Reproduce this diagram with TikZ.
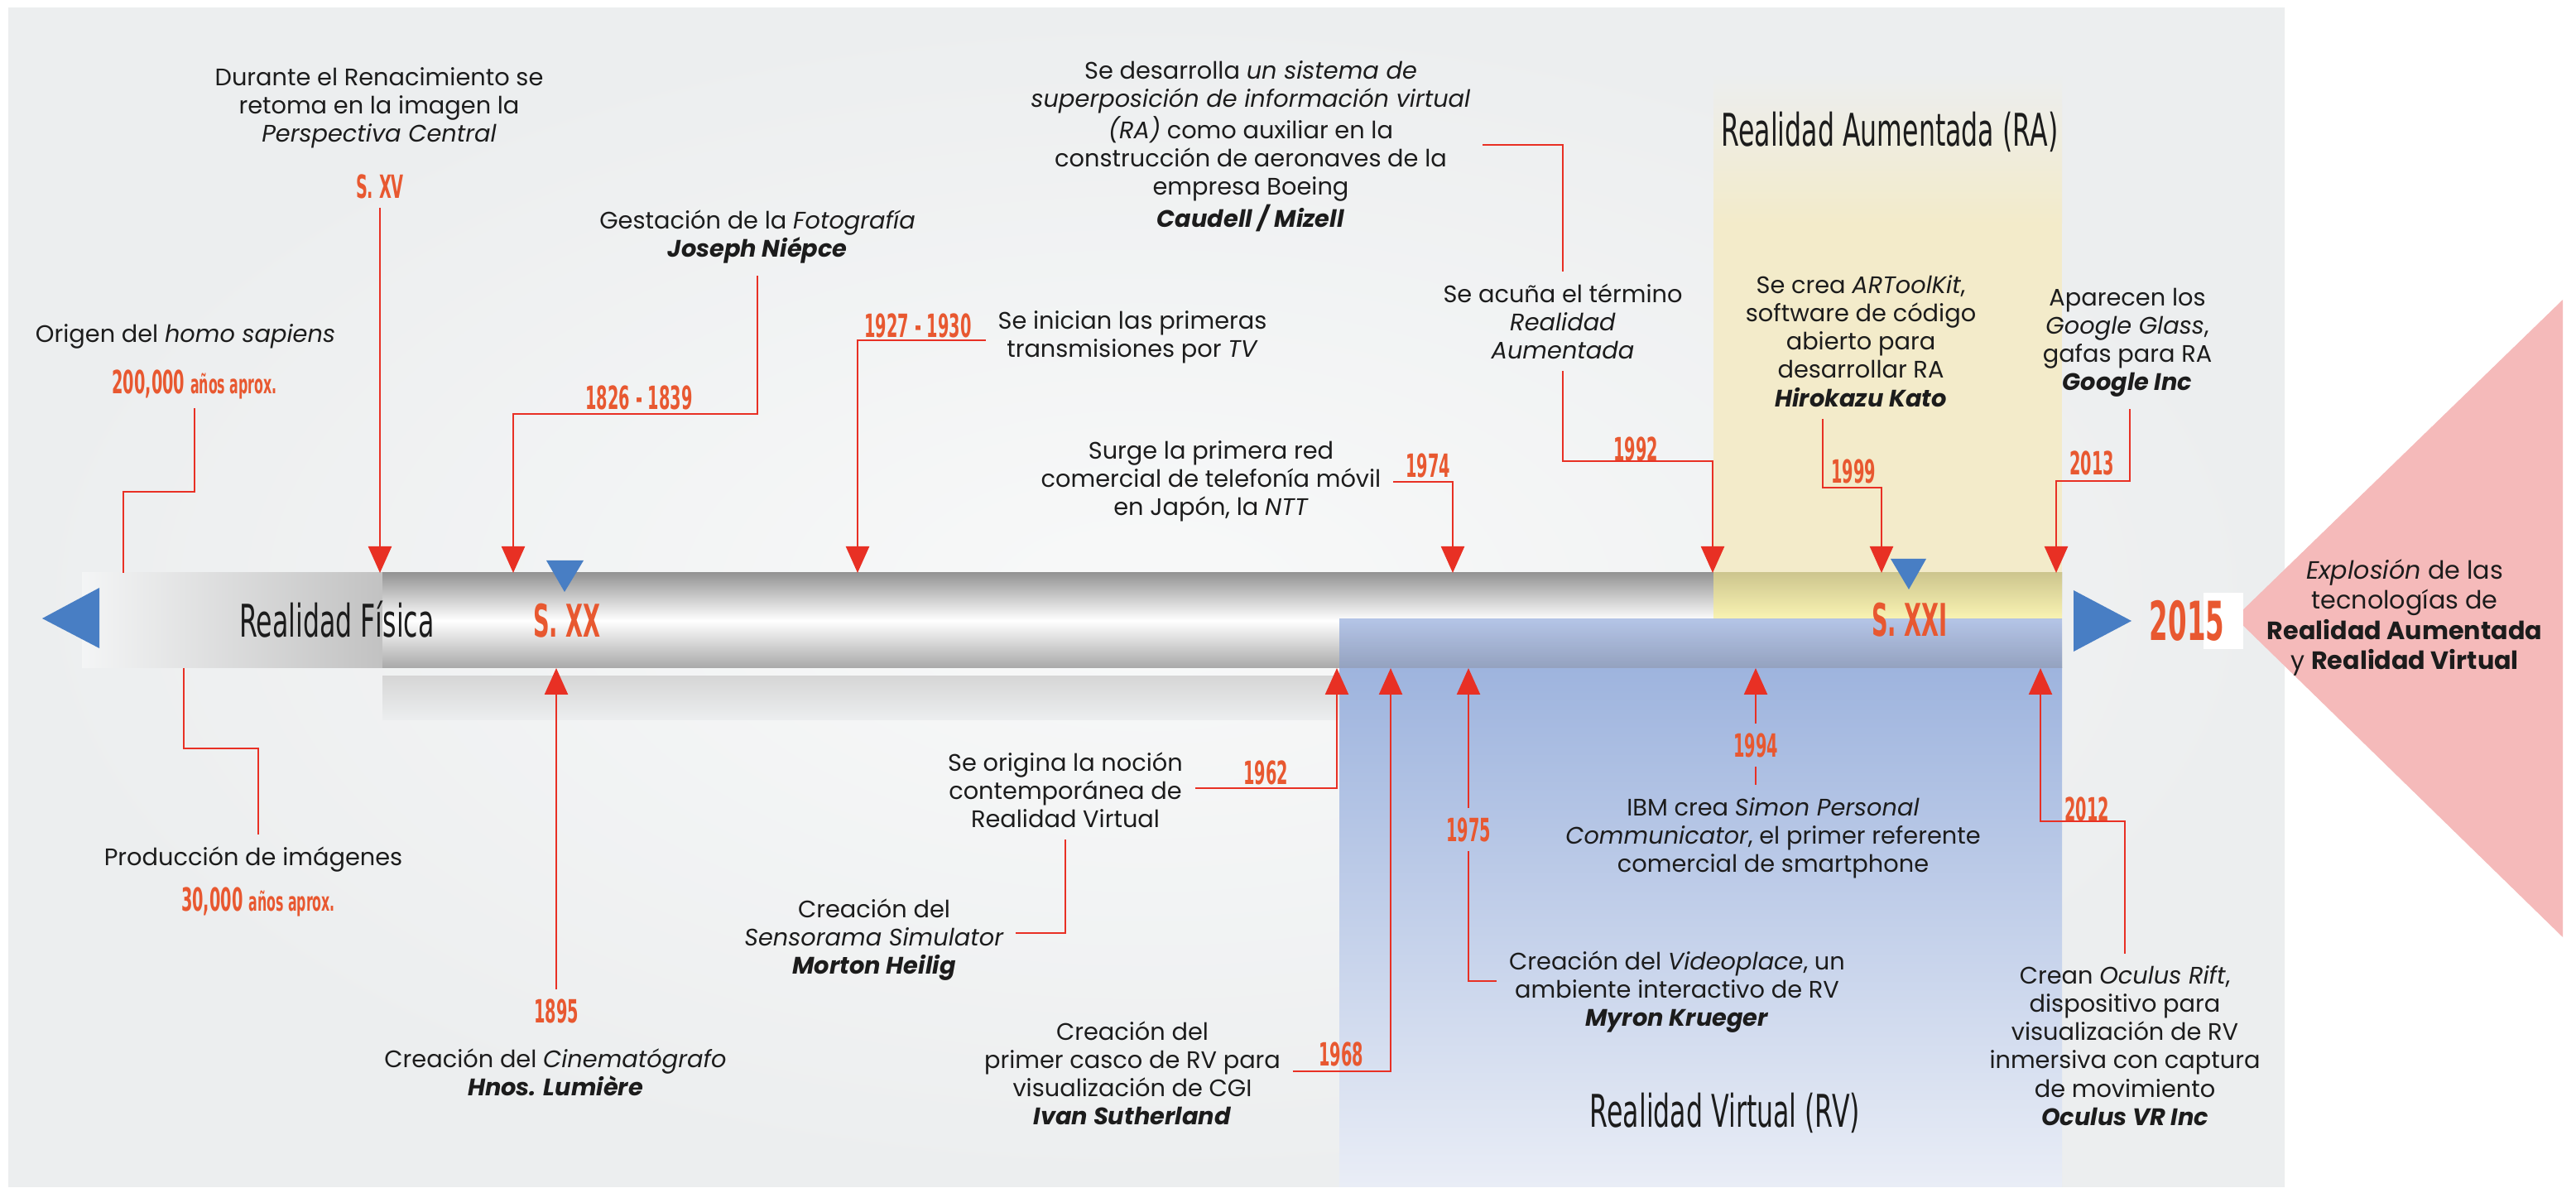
\documentclass[tikz,border=0pt]{standalone}
\usepackage{fontspec}
\setmainfont{Poppins}
\newfontfamily\condfont[FakeStretch=0.5]{DejaVu Sans}
\newfontfamily\bannerfam[FakeStretch=0.58]{DejaVu Sans}
\usepackage{xcolor}
\usepackage{tikz}
\usetikzlibrary{arrows.meta, positioning, calc}
\newcommand{\evfont}{\fontsize{8.2}{9.7}\selectfont}
\newcommand{\yrfont}{\condfont\bfseries\fontsize{11}{12}\selectfont}
\newcommand{\bigyr}{\condfont\bfseries\fontsize{15.5}{17}\selectfont}
\newcommand{\bannerfont}{\bannerfam\fontsize{15.5}{17}\selectfont}
\newcommand{\aprox}{{\fontsize{9}{10}\selectfont a\~nos aprox.}}
\newcommand{\who}[1]{\textbf{\textit{#1}}}
\definecolor{tlred}{RGB}{232,48,36}
\definecolor{tlorange}{RGB}{232,88,48}
\definecolor{tldark}{RGB}{28,28,28}
\definecolor{tlbg}{RGB}{236,238,239}
\definecolor{tlbglt}{RGB}{248,249,249}
\definecolor{tlblue}{RGB}{72,126,196}
\definecolor{tlpink}{RGB}{245,186,186}
\definecolor{rapale}{RGB}{243,235,202}
\definecolor{rabartop}{RGB}{212,204,142}
\definecolor{rabarbot}{RGB}{250,243,172}
\definecolor{rvtop}{RGB}{158,180,222}
\definecolor{rvbot}{RGB}{233,237,246}
\definecolor{rvbar}{RGB}{172,190,228}
\tikzset{
  evtext/.style={font=\evfont, text=tldark, align=center, inner sep=4pt},
  yr/.style={font=\yrfont, text=tlorange, inner sep=3pt},
  cent/.style={font=\bigyr, text=tlorange},
  banner/.style={font=\bannerfont, text=tldark},
  link/.style={tlred, line width=0.7pt},
  arr/.style={link, -{Triangle[width=2.8mm, length=3.2mm]}},
}

\begin{document}
\begin{tikzpicture}[x=1cm, y=1cm]
% background
\fill[white] (0,0) rectangle (31.12,14.40);
\shade[inner color=tlbglt, outer color=tlbg] (0.10,0.07) rectangle (27.60,14.30);

% ---- closing triangle ----
\fill[tlpink] (27.00,6.94) -- (30.96,10.78) -- (30.96,3.08) -- cycle;
\node[evtext, font=\fontsize{8.6}{10.3}\selectfont] (boom) at (29.05,6.94)
  {\textit{Explosión} de las\\tecnologías de\\\textbf{Realidad Aumentada}\\y \textbf{Realidad Virtual}};

% ---- RA / RV panels ----
\shade[top color=tlbg, bottom color=rapale] (20.70,13.51) rectangle (24.91,11.70);
\fill[rapale] (20.70,11.70) rectangle (24.91,7.48);
\shade[top color=rvtop, bottom color=rvbot] (16.18,6.33) rectangle (24.91,0.07);

% ---- time bar ----
\shade[left color=tlbg!60!white, right color=black!24] (0.99,6.33) rectangle (4.62,7.48);
\shade[top color=black!42, bottom color=black!34, middle color=white] (4.62,6.33) rectangle (24.91,7.48);
\shade[top color=black!16, bottom color=tlbg] (4.62,6.23) rectangle (16.18,5.70);
\shade[top color=rabartop, bottom color=rabarbot, opacity=0.9] (20.70,6.92) rectangle (24.91,7.48);
\shade[top color=rvbar, bottom color=rvbar!85!black, opacity=0.9] (16.18,6.33) rectangle (24.91,6.92);

% ends and century marks
\fill[tlblue] (0.51,6.93) -- (1.20,7.30) -- (1.20,6.57) -- cycle;
\fill[tlblue] (25.05,7.27) -- (25.75,6.90) -- (25.05,6.53) -- cycle;
\fill[tlblue] (6.60,7.63) -- (7.05,7.63) -- (6.82,7.25) -- cycle;
\fill[tlblue] (22.84,7.65) -- (23.27,7.65) -- (23.06,7.28) -- cycle;

% ---- labels on the bar ----
\node[banner] (fisica) at (4.07,6.92) {Realidad Física};
\node[cent] (sxx) at (6.85,6.90) {S. XX};
\node[cent] (sxxi) at (23.07,6.91) {S. XXI};
\fill[white] (26.62,7.24) rectangle (27.10,6.56);
\node[cent, font=\condfont\bfseries\fontsize{18.5}{20}\selectfont] (y2015) at (26.42,6.90) {2015};
\node[banner] (ra) at (22.83,12.81) {Realidad Aumentada (RA)};
\node[banner] (rv) at (20.84,0.96) {Realidad Virtual (RV)};

% points on the bar
\foreach \n/\x in {orig/1.49, sxv/4.59, foto/6.20, tv/10.36, ntt/17.55,
                   ra92/20.69, ra99/22.73, glass/24.84}
  \coordinate (b-\n) at (\x,7.48);
\foreach \n/\x in {img/2.22, lum/6.72, rv62/16.15, rv68/16.80, rv75/17.74,
                   rv94/21.21, rv12/24.65}
  \coordinate (b-\n) at (\x,6.33);

% ---- events above the bar ----
\node[evtext] (orig) at (2.24,10.34) {Origen del \textit{homo sapiens}};
\node[yr] (orig-yr) at (2.35,9.76) {200,000 \aprox};
\coordinate (k-orig) at (1.49,8.46);
\draw[link] (orig-yr.south) |- (k-orig) -- (b-orig);

\node[evtext] (renac) at (4.58,13.10)
  {Durante el Renacimiento se\\retoma en la imagen la\\\textit{Perspectiva Central}};
\node[yr] (sxv) at (4.59,12.15) {S. XV};
\draw[arr] (sxv.south) -- (b-sxv);

\node[evtext] (foto) at (9.15,11.54) {Gestación de la \textit{Fotografía}\\\who{Joseph Niépce}};
\node[yr] (foto-yr) at (7.72,9.60) {1826 - 1839};
\coordinate (k-foto) at (6.20,9.40);
\draw[arr] (foto.south) |- (k-foto) -- (b-foto);

\node[yr] (tv-yr) at (11.09,10.47) {1927 - 1930};
\node[evtext] (tv) at (13.68,10.33) {Se inician las primeras\\transmisiones por \textit{TV}};
\coordinate (k-tv) at (10.36,10.29);
\draw[arr] (tv.west |- k-tv) -- (k-tv) -- (b-tv);

\node[evtext] (ntt) at (14.63,8.59)
  {Surge la primera red\\comercial de telefonía móvil\\en Japón, la \textit{NTT}};
\node[yr] (ntt-yr) at (17.25,8.78) {1974};
\coordinate (k-ntt) at (17.55,8.58);
\draw[arr] (ntt.east |- k-ntt) -- (k-ntt) -- (b-ntt);

\node[evtext] (boeing) at (15.11,12.635)
  {Se desarrolla \textit{un sistema de}\\\textit{superposición de información virtual}\\
   \textit{(RA)} como auxiliar en la\\construcción de aeronaves de la\\empresa Boeing\\\who{Caudell / Mizell}};
\node[evtext] (acuna) at (18.88,10.52) {Se acuña el término\\\textit{Realidad}\\\textit{Aumentada}};
\node[yr] (acuna-yr) at (19.76,8.98) {1992};
\coordinate (k-boeing) at (18.88,12.65);
\coordinate (k-acuna) at (20.69,8.83);
\draw[link] (boeing.east |- k-boeing) -- (k-boeing) -- (acuna.north);
\draw[arr] (acuna.south) |- (k-acuna) -- (b-ra92);

\node[evtext] (artk) at (22.48,10.28)
  {Se crea \textit{ARToolKit},\\software de código\\abierto para\\desarrollar RA\\\who{Hirokazu Kato}};
\node[yr] (artk-yr) at (22.39,8.71) {1999};
\coordinate (k-artk) at (22.73,8.51);
\draw[arr] ([xshift=-4.6mm]artk.south) |- (k-artk) -- (b-ra99);

\node[evtext] (glass) at (25.70,10.265)
  {Aparecen los\\\textit{Google Glass},\\gafas para RA\\\who{Google Inc}};
\node[yr] (glass-yr) at (25.27,8.81) {2013};
\coordinate (k-glass) at (24.84,8.59);
\draw[arr] ([xshift=0.3mm]glass.south) |- (k-glass) -- (b-glass);

% ---- events below the bar ----
\node[evtext] (img) at (3.06,4.02) {Producción de imágenes};
\node[yr] (img-yr) at (3.12,3.51) {30,000 \aprox};
\coordinate (k-img) at (2.22,5.36);
\draw[link] (b-img) -- (k-img) -| ([xshift=0.6mm]img.north);

\node[yr] (lum-yr) at (6.72,2.19) {1895};
\node[evtext] (lum) at (6.71,1.45) {Creación del \textit{Cinematógrafo}\\\who{Hnos. Lumière}};
\draw[arr] (lum-yr.north) -- (b-lum);

\node[evtext] (rv62) at (12.87,4.86) {Se origina la noción\\contemporánea de\\Realidad Virtual};
\node[yr] (rv62-yr) at (15.29,5.07) {1962};
\coordinate (k-rv62) at (16.15,4.88);
\draw[arr] (rv62.east |- k-rv62) -- (k-rv62) -- (b-rv62);
\node[evtext] (senso) at (10.56,3.05) {Creación del\\\textit{Sensorama Simulator}\\\who{Morton Heilig}};
\draw[link] (rv62.south) |- ([yshift=0.8mm]senso.east);

\node[evtext] (rv68) at (13.68,1.435)
  {Creación del\\primer casco de RV para\\visualización de CGI\\\who{Ivan Sutherland}};
\node[yr] (rv68-yr) at (16.20,1.67) {1968};
\coordinate (k-rv68) at (16.80,1.46);
\draw[arr] (rv68.east |- k-rv68) -- (k-rv68) -- (b-rv68);

\node[yr] (rv75-yr) at (17.74,4.38) {1975};
\node[evtext] (rv75) at (20.26,2.42)
  {Creación del \textit{Videoplace}, un\\ambiente interactivo de RV\\\who{Myron Krueger}};
\coordinate (k-rv75) at (17.74,2.55);
\draw[arr] (rv75-yr.north) -- (b-rv75);
\draw[link] (rv75-yr.south) -- (k-rv75) -- (rv75.west |- k-rv75);

\node[yr] (rv94-yr) at (21.21,5.40) {1994};
\node[evtext] (rv94) at (21.42,4.28)
  {IBM crea \textit{Simon Personal}\\\textit{Communicator}, el primer referente\\comercial de smartphone};
\draw[arr] (rv94-yr.north) -- (b-rv94);
\draw[link] (rv94-yr.south) -- (rv94-yr.south |- rv94.north);

\node[yr] (rv12-yr) at (25.21,4.63) {2012};
\node[evtext] (rv12) at (25.67,1.77)
  {Crean \textit{Oculus Rift},\\dispositivo para\\visualización de RV\\inmersiva con captura\\de movimiento\\\who{Oculus VR Inc}};
\coordinate (k-rv12) at (24.65,4.48);
\draw[arr] (rv12.north) |- (k-rv12) -- (b-rv12);
\end{tikzpicture}
\end{document}
